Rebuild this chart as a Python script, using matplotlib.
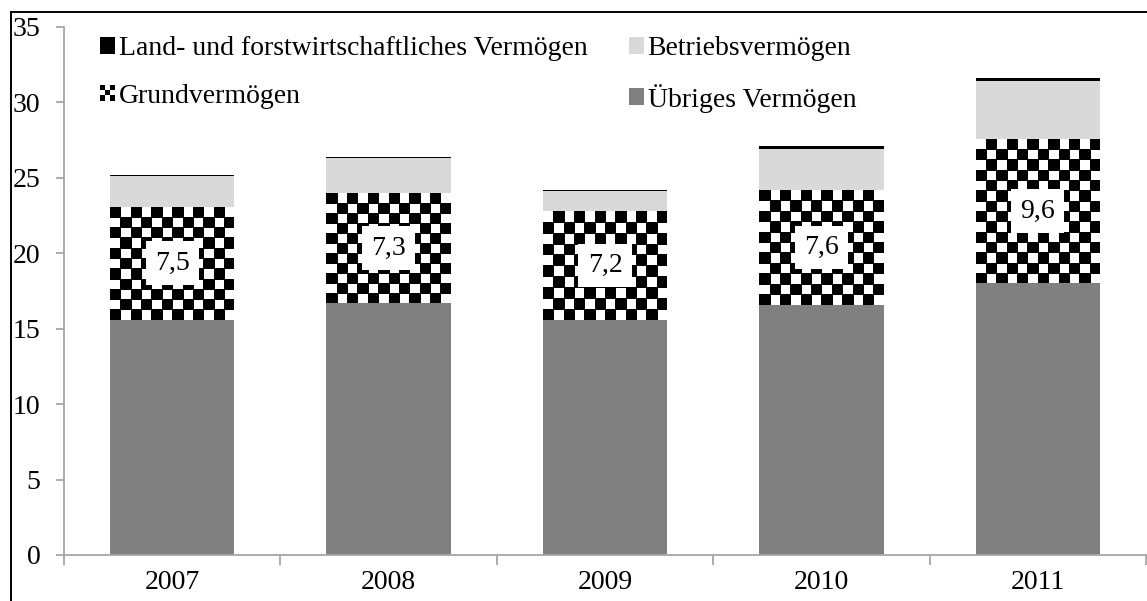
import matplotlib
matplotlib.use("Agg")
import matplotlib.pyplot as plt
import numpy as np
from matplotlib.patches import Patch, Rectangle
from matplotlib.collections import PatchCollection
from matplotlib.legend_handler import HandlerBase
from matplotlib.lines import Line2D

# Daten (Mrd. Euro)
jahre = ["2007", "2008", "2009", "2010", "2011"]
uebriges = [15.6, 16.7, 15.6, 16.6, 18.0]
grund = [7.5, 7.3, 7.2, 7.6, 9.6]
betrieb = [2.0, 2.3, 1.3, 2.7, 3.8]
land = [0.1, 0.1, 0.1, 0.2, 0.2]
grund_labels = ["7,5", "7,3", "7,2", "7,6", "9,6"]

plt.rcParams['font.family'] = ['Liberation Serif', 'DejaVu Serif']
FS = 20
GRAU = '#808080'
HELL = '#d9d9d9'
ACHSE = '#a6a6a6'


class CheckerHandler(HandlerBase):
    # small checkerboard square for the legend
    def create_artists(self, legend, orig_handle, xdescent, ydescent,
                       width, height, fontsize, trans):
        s = min(width, height)
        x0 = -xdescent
        y0 = -ydescent + (height - s) / 2
        n = 3
        c = s / n
        arts = [Rectangle((x0, y0), s, s, facecolor='white', edgecolor='none', transform=trans)]
        for i in range(n):
            for j in range(n):
                if (i + j) % 2 == 0:
                    arts.append(Rectangle((x0 + i * c, y0 + j * c), c, c,
                                          facecolor='black', edgecolor='none', transform=trans))
        return arts


fig = plt.figure(figsize=(11.47, 6.01), dpi=100)
ax = fig.add_axes([64 / 1147, 1 - 555 / 601, (1146 - 64) / 1147, (555 - 27) / 601])

x = np.arange(len(jahre))
w = 0.575
b1 = ax.bar(x, uebriges, w, color=GRAU)
bottom2 = np.array(uebriges)
b2 = ax.bar(x, grund, w, bottom=bottom2, color='white')
bottom3 = bottom2 + np.array(grund)
b3 = ax.bar(x, betrieb, w, bottom=bottom3, color=HELL)
bottom4 = bottom3 + np.array(betrieb)
b4 = ax.bar(x, land, w, bottom=bottom4, color='black')

ax.set_xlim(-0.5, 4.5)
ax.set_ylim(0, 35)

# checkerboard fill for Grundvermoegen, cells about 10.5 px
cell = 10.4
for p in b2.patches:
    x0, y0 = p.get_x(), p.get_y()
    pw, ph = p.get_width(), p.get_height()
    (px0, py0), (px1, py1) = ax.transData.transform([(x0, y0), (x0 + pw, y0 + ph)])
    nx = max(1, int(round((px1 - px0) / cell)))
    ny = max(1, int(round((py1 - py0) / cell)))
    cw, chh = pw / nx, ph / ny
    cells = [Rectangle((x0 + i * cw, y0 + j * chh), cw, chh)
             for i in range(nx) for j in range(ny) if (i + j) % 2 == 0]
    pc = PatchCollection(cells, facecolor='black', edgecolor='black', linewidth=0.6,
                         antialiased=False, zorder=1.5)
    ax.add_collection(pc)
    pc.set_clip_path(p)

for xi, yb, g, lab in zip(x, bottom2, grund, grund_labels):
    ax.text(xi, yb + g / 2, lab, ha='center', va='center', fontsize=FS, zorder=3,
            bbox=dict(boxstyle='square,pad=0.33', facecolor='white', edgecolor='none'))

# axes styling
for s in ['top', 'right']:
    ax.spines[s].set_visible(False)
for s in ['left', 'bottom']:
    ax.spines[s].set_color(ACHSE)
    ax.spines[s].set_linewidth(1.3)

ax.set_yticks(np.arange(0, 36, 5))
ax.tick_params(axis='y', direction='out', length=6, width=1.3, color=ACHSE,
               pad=11, labelsize=FS)
ax.set_xticks(x)
ax.set_xticklabels(jahre)
ax.set_xticks(np.arange(-0.5, 5, 1), minor=True)
ax.tick_params(axis='x', which='major', length=0, pad=11, labelsize=FS)
ax.tick_params(axis='x', which='minor', direction='out', length=7, width=1.3, color=ACHSE)

# legend
handles = [Patch(facecolor='black'), Patch(facecolor='white'),
           Patch(facecolor=HELL), Patch(facecolor=GRAU)]
labels = ["Land- und forstwirtschaftliches Vermögen", "Grundvermögen",
          "Betriebsvermögen", "Übriges Vermögen"]
ax.legend(handles, labels, ncol=2, loc='upper left',
          bbox_to_anchor=(100 / 1147, 1 - 36 / 601), bbox_transform=fig.transFigure,
          frameon=False, fontsize=FS, handlelength=0.55, handleheight=0.55,
          handletextpad=0.12, columnspacing=1.5, labelspacing=0.82, borderpad=0,
          borderaxespad=0, handler_map={handles[1]: CheckerHandler()})

# outer frame (top and left edges visible)
fig.add_artist(Line2D([11 / 1147, 11 / 1147], [0, 1 - 12 / 601], transform=fig.transFigure,
                      color='black', lw=1.4, solid_capstyle='projecting'))
fig.add_artist(Line2D([11 / 1147, 1], [1 - 12 / 601, 1 - 12 / 601], transform=fig.transFigure,
                      color='black', lw=1.4, solid_capstyle='projecting'))

fig.savefig("out.png", dpi=100)
